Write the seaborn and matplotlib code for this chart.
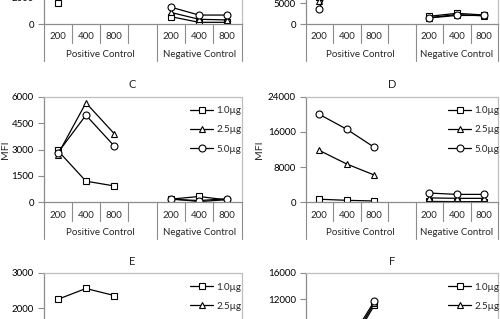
import matplotlib
matplotlib.use("Agg")
import matplotlib.pyplot as plt
import matplotlib.transforms as mtransforms
from matplotlib.lines import Line2D
import pandas as pd
import seaborn as sns

doses = ["1.0µg", "2.5µg", "5.0µg"]
ratios = ["200", "400", "800"]
groups = ["Positive Control", "Negative Control"]
dose_markers = ["s", "^", "o"]

# MFI per dose: (positive control 200/400/800, negative control 200/400/800)
panel_a = {
    "1.0µg": ([1600, 5200, 4600], [580, 150, 150]),
    "2.5µg": ([3500, 7000, 6000], [900, 380, 330]),
    "5.0µg": ([4500, 7500, 6500], [1300, 700, 700]),
}
panel_b = {
    "1.0µg": ([6500, 15000, 14000], [1900, 2600, 2200]),
    "2.5µg": ([5500, 17000, 16000], [1600, 2300, 2000]),
    "5.0µg": ([3700, 19000, 18000], [1500, 2100, 2100]),
}
panel_c = {
    "1.0µg": ([2950, 1200, 930], [180, 330, 130]),
    "2.5µg": ([2700, 5650, 3900], [200, 40, 150]),
    "5.0µg": ([2800, 4950, 3200], [170, 100, 200]),
}
panel_d = {
    "1.0µg": ([700, 450, 300], [200, 150, 150]),
    "2.5µg": ([11800, 8700, 6200], [1000, 900, 900]),
    "5.0µg": ([20000, 16600, 12500], [2100, 1800, 1800]),
}
panel_e = {
    "1.0µg": ([2250, 2560, 2360], [150, 120, 130]),
    "2.5µg": ([1300, 1500, 1400], [140, 110, 120]),
    "5.0µg": ([1000, 1200, 1100], [130, 100, 110]),
}
panel_f = {
    "1.0µg": ([1500, 4000, 11100], [300, 250, 250]),
    "2.5µg": ([2000, 4500, 11400], [350, 300, 300]),
    "5.0µg": ([2500, 5000, 11700], [400, 350, 350]),
}
titles = ["A", "B", "C", "D", "E", "F"]
y_ticks = [
    [0, 2000, 4000, 6000, 8000],
    [0, 5000, 10000, 15000, 20000, 25000],
    [0, 1500, 3000, 4500, 6000],
    [0, 8000, 16000, 24000],
    [0, 1000, 2000, 3000],
    [0, 4000, 8000, 12000, 16000],
]
panels = [panel_a, panel_b, panel_c, panel_d, panel_e, panel_f]

# layout in pixels of a 500x319 canvas
W, H = 500, 319
col_x = [(43.5, 241.5), (305.5, 498.0)]
row_top = [-81.3, 96.7, 273.0]
plot_h = 105.6
ylabel_x = [10, 264]
gray = "#8c8c8c"


def to_frame(panel):
    rows = []
    for dose in doses:
        pos_vals, neg_vals = panel[dose]
        for gi, vals in enumerate([pos_vals, neg_vals]):
            for ri, v in enumerate(vals):
                rows.append({"dose": dose, "group": groups[gi], "ratio": ratios[ri],
                             "slot": ri + 4 * gi, "MFI": v})
    return pd.DataFrame(rows)


def draw_categories(ax):
    px = 1 / plot_h
    trans = mtransforms.blended_transform_factory(ax.transData, ax.transAxes)
    for slot, lab in zip([0, 1, 2, 4, 5, 6], ratios * 2):
        ax.text(slot, -12.7 * px, lab, ha="center", va="center", fontsize=7, transform=trans)
    for b in [0.5, 1.5, 2.5, 4.5, 5.5]:
        ax.add_line(Line2D([b, b], [0, -18.7 * px], transform=trans, clip_on=False,
                           color=gray, lw=0.8))
    for b in [-0.5, 3.5, 6.5]:
        ax.add_line(Line2D([b, b], [0, -36.7 * px], transform=trans, clip_on=False,
                           color=gray, lw=0.8))
    ax.text(1.5, -30.5 * px, groups[0], ha="center", va="center", fontsize=7, transform=trans)
    ax.text(5.0, -30.5 * px, groups[1], ha="center", va="center", fontsize=7, transform=trans)


sns.set_theme(style="white")
plt.rcParams["font.family"] = ["Lato", "DejaVu Sans"]

fig = plt.figure(figsize=(W / 100, H / 100), dpi=100)

for i, panel in enumerate(panels):
    r, c = divmod(i, 2)
    x0, x1 = col_x[c]
    top = row_top[r]
    ax = fig.add_axes([x0 / W, (H - top - plot_h) / H, (x1 - x0) / W, plot_h / H])
    df = to_frame(panel)
    sns.lineplot(data=df, x="slot", y="MFI", hue="dose", style="dose", units="group",
                 estimator=None, sort=False, markers=dict(zip(doses, dose_markers)),
                 dashes=False, palette=dict(zip(doses, ["black"] * 3)), legend=False,
                 linewidth=0.9, markersize=5, markerfacecolor="white",
                 markeredgecolor="black", markeredgewidth=0.8, ax=ax)
    ax.set_xlim(-0.5, 6.5)
    ax.set_ylim(y_ticks[i][0], y_ticks[i][-1])
    ax.set_yticks(y_ticks[i])
    ax.set_xticks([])
    ax.set_xlabel("")
    ax.set_ylabel("MFI", fontsize=7.5)
    ax.yaxis.set_label_coords((ylabel_x[c] - x0) / (x1 - x0), 0.5)
    for side, sp in ax.spines.items():
        sp.set_color(gray if side in ("left", "bottom") else "#bfbfbf")
        sp.set_linewidth(0.9)
    ax.tick_params(axis="y", left=True, length=4, width=0.8, color=gray, labelsize=7,
                   pad=3, labelcolor="black")
    draw_categories(ax)
    ax.text(0.45, 1 + 11.7 / plot_h, titles[i], ha="center", va="center", fontsize=8,
            transform=ax.transAxes)
    handles = [Line2D([], [], color="black", lw=0.9, marker=m, markersize=5,
                      markerfacecolor="white", markeredgecolor="black", markeredgewidth=0.8)
               for m in dose_markers]
    ax.legend(handles, doses, loc="upper left", bbox_to_anchor=(0.74, 0.91), frameon=False,
              fontsize=7, handlelength=2.4, handletextpad=0.3, labelspacing=1.05,
              borderpad=0, borderaxespad=0)

fig.savefig("out.png", dpi=100)
